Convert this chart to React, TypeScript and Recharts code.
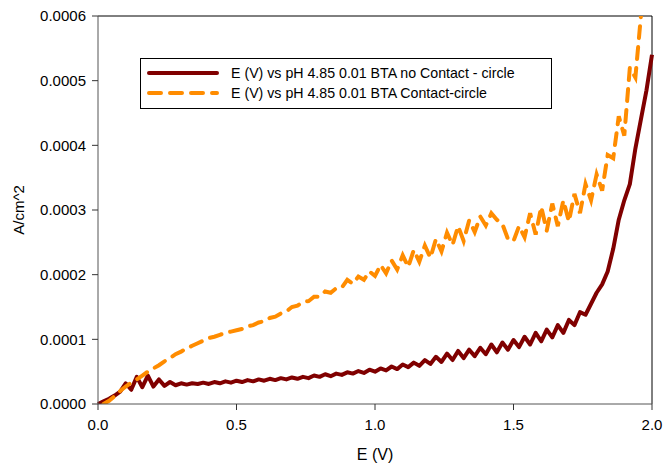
import { LineChart, Line, XAxis, YAxis, Legend, ReferenceLine } from "recharts";

// potential sweep (V)
const ePotential = [
  0.0, 0.02, 0.04, 0.06, 0.08, 0.1, 0.12, 0.14, 0.16, 0.18,
  0.2, 0.22, 0.24, 0.26, 0.28, 0.3, 0.32, 0.34, 0.36, 0.38,
  0.4, 0.42, 0.44, 0.46, 0.48, 0.5, 0.52, 0.54, 0.56, 0.58,
  0.6, 0.62, 0.64, 0.66, 0.68, 0.7, 0.72, 0.74, 0.76, 0.78,
  0.8, 0.82, 0.84, 0.86, 0.88, 0.9, 0.92, 0.94, 0.96, 0.98,
  1.0, 1.02, 1.04, 1.06, 1.08, 1.1, 1.12, 1.14, 1.16, 1.18,
  1.2, 1.22, 1.24, 1.26, 1.28, 1.3, 1.32, 1.34, 1.36, 1.38,
  1.4, 1.42, 1.44, 1.46, 1.48, 1.5, 1.52, 1.54, 1.56, 1.58,
  1.6, 1.62, 1.64, 1.66, 1.68, 1.7, 1.72, 1.74, 1.76, 1.78,
  1.8, 1.82, 1.84, 1.86, 1.88, 1.9, 1.92, 1.94, 1.96, 1.98,
  2.0,
];

// current density, in units of 1e-4 A/cm^2
const iNoContact = [
  0.0, 0.04, 0.08, 0.13, 0.19, 0.32, 0.22, 0.42, 0.26, 0.44,
  0.27, 0.38, 0.28, 0.34, 0.29, 0.32, 0.3, 0.32, 0.31, 0.33,
  0.31, 0.34, 0.32, 0.35, 0.33, 0.36, 0.34, 0.37, 0.35, 0.38,
  0.36, 0.39, 0.37, 0.4, 0.38, 0.41, 0.39, 0.42, 0.4, 0.44,
  0.42, 0.46, 0.43, 0.47, 0.45, 0.49, 0.47, 0.51, 0.48, 0.53,
  0.5, 0.55, 0.52, 0.58, 0.54, 0.61, 0.57, 0.64, 0.59, 0.68,
  0.62, 0.73, 0.65, 0.78, 0.68, 0.82, 0.71, 0.84, 0.74, 0.87,
  0.77, 0.92, 0.8, 0.95, 0.84, 0.99, 0.88, 1.04, 0.92, 1.1,
  0.97, 1.15, 1.03, 1.22, 1.1, 1.3, 1.22, 1.42, 1.38, 1.55,
  1.72, 1.85, 2.05, 2.4, 2.85, 3.15, 3.4, 3.95, 4.4, 4.85,
  5.4,
];

// starts at 0.02 V, ends at 1.96 V
const iContact = [
  0.0, 0.05, 0.12, 0.2, 0.27, 0.33, 0.38, 0.44, 0.5, 0.55,
  0.6, 0.66, 0.71, 0.77, 0.81, 0.86, 0.9, 0.94, 0.98, 1.02,
  1.04, 1.07, 1.1, 1.12, 1.14, 1.16, 1.2, 1.22, 1.26, 1.28,
  1.33, 1.35, 1.4, 1.43, 1.5, 1.52, 1.58, 1.59, 1.66, 1.66,
  1.74, 1.72, 1.79, 1.8, 1.92, 1.86, 1.97, 1.92, 2.05, 1.98,
  2.15, 2.02, 2.22, 2.08, 2.3, 2.12, 2.38, 2.2, 2.45, 2.26,
  2.55, 2.36, 2.65, 2.46, 2.75, 2.52, 2.84, 2.66, 2.9, 2.76,
  2.95, 2.85, 2.78, 2.55, 2.52, 2.75, 2.58, 2.95, 2.62, 3.05,
  2.68, 3.1, 2.75, 3.15, 2.82, 3.25, 2.95, 3.4, 3.15, 3.55,
  3.3, 3.85, 3.8, 4.45, 4.15, 5.2, 5.05, 6.0,
];

const xTicks = [0, 0.5, 1, 1.5, 2];
const yTicks = [0, 1, 2, 3, 4, 5, 6];
const yTickLabels = ["0.0000", "0.0001", "0.0002", "0.0003", "0.0004", "0.0005", "0.0006"];
const seriesNames = [
  "E (V) vs pH 4.85 0.01 BTA no Contact - circle",
  "E (V) vs pH 4.85 0.01 BTA Contact-circle",
];
const colors = ["#800000", "#ff8c00"];

const noContactData = ePotential.map((e, k) => ({ e, i: iNoContact[k] }));
const contactData = iContact.map((i, k) => ({ e: ePotential[k + 1], i }));

const FONT = "'Liberation Sans', Arial, sans-serif";

const LegendBox = () => (
  <div
    style={{
      boxSizing: "border-box",
      width: 412,
      height: 51,
      border: "1px solid #000",
      background: "#fff",
      paddingTop: 4,
      fontFamily: FONT,
      fontSize: 14.2,
      color: "#000",
    }}
  >
    {seriesNames.map((name, idx) => (
      <div key={name} style={{ display: "flex", alignItems: "center", height: 20 }}>
        <svg width={86} height={20} style={{ marginLeft: 4 }}>
          <line
            x1={4}
            x2={72}
            y1={10}
            y2={10}
            stroke={colors[idx]}
            strokeWidth={4}
            strokeLinecap="round"
            strokeDasharray={idx === 1 ? "12 9" : undefined}
          />
        </svg>
        <span>{name}</span>
      </div>
    ))}
  </div>
);

export default function App() {
  return (
    <div style={{ position: "absolute", left: 0, top: 0, background: "#fff" }}>
      <LineChart
        width={667}
        height={468}
        margin={{ top: 16, right: 15, bottom: 0, left: 0 }}
        style={{ fontFamily: FONT }}
      >
        <XAxis
          type="number"
          dataKey="e"
          domain={[0, 2]}
          ticks={xTicks}
          height={64}
          tickFormatter={(v: number) => v.toFixed(1)}
          tick={{ fill: "#000", fontSize: 15, fontFamily: FONT }}
          tickSize={6}
          tickMargin={9}
          axisLine={{ stroke: "#555" }}
          tickLine={{ stroke: "#333" }}
          label={() => (
            <text x={375} y={460} textAnchor="middle" fontSize={16} fontFamily={FONT} fill="#000">
              E (V)
            </text>
          )}
        />
        <YAxis
          type="number"
          dataKey="i"
          domain={[0, 6]}
          ticks={yTicks}
          width={98}
          allowDataOverflow
          tickFormatter={(v: number) => yTickLabels[yTicks.indexOf(v)]}
          tick={{ fill: "#000", fontSize: 15, fontFamily: FONT }}
          tickSize={6}
          tickMargin={6}
          axisLine={{ stroke: "#555" }}
          tickLine={{ stroke: "#333" }}
          label={() => (
            <text
              x={18}
              y={210}
              transform="rotate(-90 18 210)"
              textAnchor="middle"
              dominantBaseline="central"
              fontSize={15}
              fontFamily={FONT}
              fill="#000"
            >
              A/cm^2
            </text>
          )}
        />
        <ReferenceLine y={6} stroke="#000" strokeWidth={1} ifOverflow="extendDomain" />
        <ReferenceLine x={2} stroke="#000" strokeWidth={1} />
        <Legend
          layout="vertical"
          align="center"
          verticalAlign="middle"
          wrapperStyle={{ left: 140, top: 58, width: 412, height: 51 }}
          content={() => <LegendBox />}
        />
        <Line
          data={noContactData}
          dataKey="i"
          name={seriesNames[0]}
          type="linear"
          stroke={colors[0]}
          strokeWidth={4}
          strokeLinejoin="round"
          dot={false}
          isAnimationActive={false}
        />
        <Line
          data={contactData}
          dataKey="i"
          name={seriesNames[1]}
          type="linear"
          stroke={colors[1]}
          strokeWidth={4}
          strokeLinecap="round"
          strokeDasharray="12 9"
          dot={false}
          isAnimationActive={false}
        />
      </LineChart>
    </div>
  );
}
